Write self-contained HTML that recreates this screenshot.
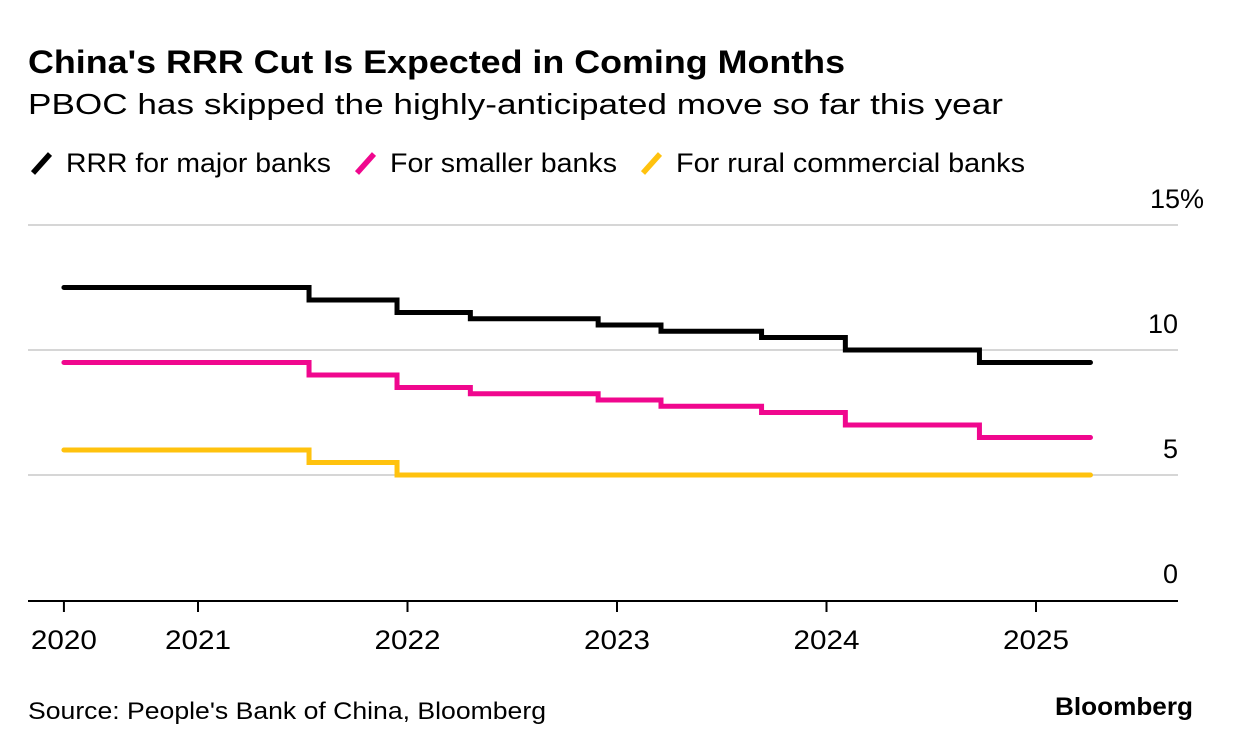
<!DOCTYPE html>
<html><head><meta charset="utf-8"><style>
body{margin:0;background:#fff;width:1233px;height:750px;overflow:hidden;font-family:"Liberation Sans",sans-serif;}
svg{position:absolute;left:0;top:0}
</style></head><body>
<svg width="1233" height="750">
<text x="28" y="73" font-size="32" font-weight="bold" textLength="817" lengthAdjust="spacingAndGlyphs">China's RRR Cut Is Expected in Coming Months</text>
<text x="28" y="114" font-size="29" textLength="975" lengthAdjust="spacingAndGlyphs">PBOC has skipped the highly-anticipated move so far this year</text>
<g id="legend"></g>
<g id="grid"></g>
<g id="series"></g>
<g id="xaxis"></g>
<text x="28" y="719" font-size="24" textLength="518" lengthAdjust="spacingAndGlyphs">Source: People's Bank of China, Bloomberg</text>
<text x="1055" y="715" font-size="25" font-weight="bold" textLength="138" lengthAdjust="spacingAndGlyphs">Bloomberg</text>
</svg>
<script>
const stepDates=[2020.36,2021.53,2021.95,2022.3,2022.91,2023.21,2023.69,2024.09,2024.73,2025.26];
const majorBanks=[12.5,12.0,11.5,11.25,11.0,10.75,10.5,10.0,9.5,9.5];
const smallerBanks=[9.5,9.0,8.5,8.25,8.0,7.75,7.5,7.0,6.5,6.5];
const ruralBanks=[6.0,5.5,5.0,5.0,5.0,5.0,5.0,5.0,5.0,5.0];
const yTicks=[0,5,10,15];
const yTickLabels=["0","5","10","15%"];
const xTickDates=[2020.36,2021,2022,2023,2024,2025];
const xTickLabels=["2020","2021","2022","2023","2024","2025"];
const NS="http://www.w3.org/2000/svg";
const X=d=>198+(d-2021)*209.5;
const Y=v=>600-v*25;
function mk(tag,attrs,parent,txt){const e=document.createElementNS(NS,tag);for(const k in attrs)e.setAttribute(k,attrs[k]);if(txt!==undefined)e.textContent=txt;parent.appendChild(e);return e;}
const grid=document.getElementById('grid');
yTicks.forEach((t,i)=>{
  if(t>0){const l=mk('line',{x1:28,x2:1178,y1:Y(t),y2:Y(t),stroke:'#d6d6d6','stroke-width':2},grid);
  
  }
  const tx=mk('text',{x:1178,y:Y(t)-17,'font-size':27,'text-anchor':'end'},grid,yTickLabels[i]);
  if(t===15){tx.setAttribute('x',1204);}
  
  
});
const xa=document.getElementById('xaxis');
const ax=mk('line',{x1:28,x2:1178,y1:601,y2:601,stroke:'#000','stroke-width':2},xa);


xTickDates.forEach((d,i)=>{
  const t=mk('line',{x1:X(d),x2:X(d),y1:601,y2:612,stroke:'#000','stroke-width':2},xa);
  
  
  const tx=mk('text',{x:X(d),y:649,'font-size':27,'text-anchor':'middle',textLength:66,lengthAdjust:'spacingAndGlyphs'},xa,xTickLabels[i]);
  
  
});
const ser=document.getElementById('series');
function stepPath(vals){let d='M'+X(stepDates[0])+','+Y(vals[0]);for(let i=1;i<stepDates.length;i++){d+=' H'+X(stepDates[i])+' V'+Y(vals[i]);}return d;}
[[majorBanks,'#000','major-banks-line'],[smallerBanks,'#f0078e','smaller-banks-line'],[ruralBanks,'#ffc20e','rural-banks-line']].forEach(s=>{
  const p=mk('path',{d:stepPath(s[0]),fill:'none',stroke:s[1],'stroke-width':5,'stroke-linecap':'round','stroke-linejoin':'miter'},ser);
  
  
});
const lg=document.getElementById('legend');
const items=[['RRR for major banks','#000',30,265],['For smaller banks','#f0078e',354,227],['For rural commercial banks','#ffc20e',640,349]];
items.forEach(it=>{
  const l=mk('line',{x1:it[2]+3,y1:173,x2:it[2]+20,y2:154,stroke:it[1],'stroke-width':5.5},lg);
  
  
  const t=mk('text',{x:it[2]+36,y:172,'font-size':27,textLength:it[3],lengthAdjust:'spacingAndGlyphs'},lg,it[0]);
  
  
});
</script>
</body></html>
